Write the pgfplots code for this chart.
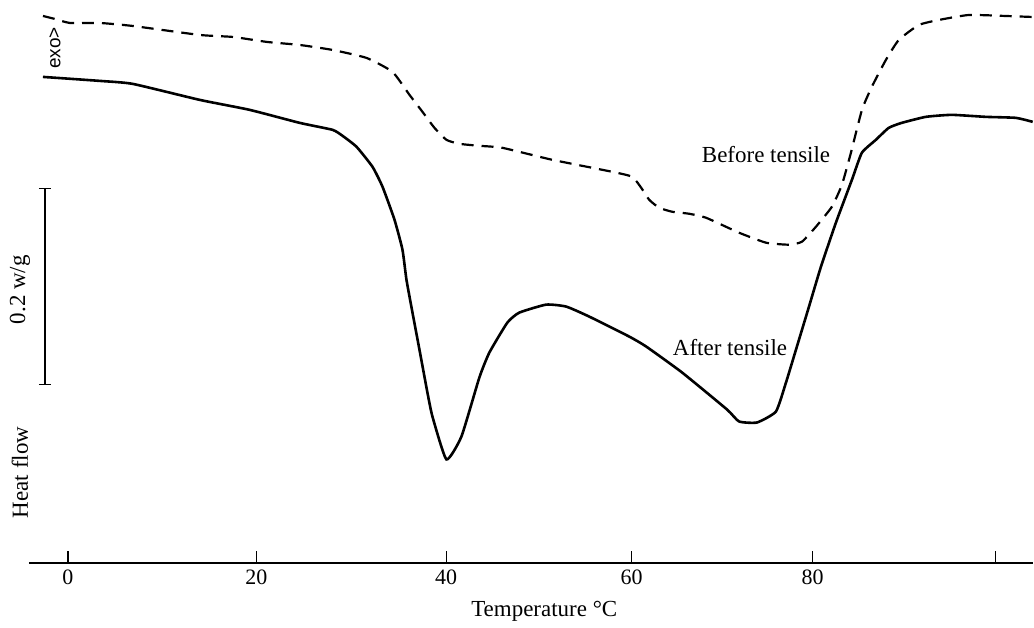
\documentclass[border=0pt]{standalone}
\usepackage{fontspec}
\setmainfont{Liberation Serif}
\newfontfamily\sansf{Liberation Sans}
\usepackage{pgfplots}
\pgfplotsset{compat=1.18}
\begin{document}
\begin{tikzpicture}[font=\fontsize{11.5}{14}\selectfont]
\begin{axis}[
  scale only axis, width=502.5pt, height=281.75pt,
  xmin=-4.199, xmax=104.02, ymin=0, ymax=563.5,
  axis x line*=bottom, axis y line=none,
  xtick={0,20.32,40.78,60.78,80.29,100}, xticklabels={0,20,40,60,80,{}},
  tick align=inside, major tick length=6pt,
  tick style={black, line width=0.6pt},
  axis line style={black, line width=0.8pt},
  xticklabel style={font=\fontsize{11}{13}\selectfont},
  clip=false,
]
% Before tensile (dashed)
\addplot[black, line width=1.1pt, dash pattern=on 6pt off 4pt, smooth, tension=0.3] coordinates {
(-2.69,547.5) (-1.40,544.5) (0.22,540.5) (3.45,540.5) (7.00,537.5) (14.21,528.5)
(17.80,526.5) (21.47,521.5) (24.98,518.5) (28.53,513.5) (32.20,505.5) (35.00,491.5)
(36.83,468.5)
(38.23,451.5) (39.52,435.5) (40.81,423.5) (42.21,419.5) (44.36,417.5) (46.84,415.5)
(52.22,403.5) (58.68,391.5) (60.84,386.5) (61.81,375.5) (62.67,363.5) (63.74,355.5)
(65.14,351.5) (66.97,349.5) (68.80,345.5) (72.36,330.5) (75.27,320.5) (77.74,318.5)
(79.14,321.5) (80.65,336.5) (82.37,356.5) (83.45,378.5) (84.42,410.5) (85.61,453.5)
(86.67,476.5) (88.19,503.5) (89.58,523.5) (91.74,538.5) (93.89,543.5) (97.13,548.5)
(101.11,547.5) (104.02,546.5)
};
% After tensile (solid)
\addplot[black, line width=1.3pt, smooth, tension=0.3] coordinates {
(-2.69,486.5) (3.45,482.5) (7.00,479.5) (14.21,463.5) (19.60,453.5) (24.98,440.5)
(28.53,433.5) (29.61,427.5) (31.12,416.5) (32.84,396.5) (33.92,376.5) (35.21,343.5)
(36.07,313.5)
(36.50,283.5) (37.15,250.5) (37.90,213.5) (38.76,170.5) (39.30,146.5) (40.81,103.5)
(42.43,126.5) (44.36,185.5) (45.44,210.5) (47.38,240.5) (48.67,250.5) (51.57,258.5)
(53.73,256.5) (56.21,246.5) (60.52,226.5) (62.35,216.5) (66.22,190.5) (71.06,153.5)
(72.36,141.5) (74.30,140.5) (76.34,151.5) (77.42,180.5) (78.50,213.5) (79.90,256.5)
(81.19,296.5) (82.80,340.5) (84.53,383.5) (85.60,410.5) (87.11,423.5) (88.50,435.5)
(89.91,440.5) (92.50,446.5) (95.29,448.5) (98.96,446.5) (102.19,445.5) (104.02,441.5)
};
% scale bar
\draw[line width=0.6pt] (axis cs:-2.48,178.5) -- (axis cs:-2.48,374.5);
\draw[line width=0.6pt] (axis cs:-3.13,178.5) -- (axis cs:-1.83,178.5);
\draw[line width=0.6pt] (axis cs:-3.13,374.5) -- (axis cs:-1.83,374.5);
\node[rotate=90, font=\sansf\fontsize{9.5}{12}\selectfont] at (axis cs:-1.40,515.5) {exo>};
\node[rotate=90] at (axis cs:-5.17,273.5) {0.2 w/g};
\node[rotate=90] at (axis cs:-5.17,90.5) {Heat flow};
\node at (axis cs:75.27,408.5) {Before tensile};
\node at (axis cs:71.39,215.5) {After tensile};
\node at (axis cs:51.36,-48.5) {Temperature °C};
\path (axis cs:-7.322,-61.5) rectangle (axis cs:104.02,563.5);
\end{axis}
\end{tikzpicture}
\end{document}
